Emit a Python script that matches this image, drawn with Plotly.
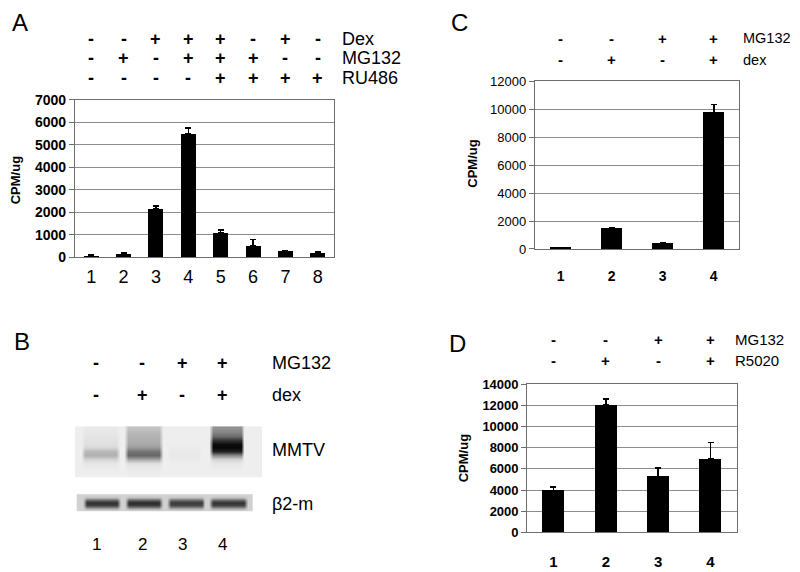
import plotly.graph_objects as go

FONT = "Liberation Sans"

# ---------------- data ----------------
# Panel A
a_lanes = [1, 2, 3, 4, 5, 6, 7, 8]
a_values = [100, 170, 2170, 5470, 1090, 530, 310, 230]
a_errors = [20, 15, 100, 260, 115, 270, 0, 0]
a_dex = ["-", "-", "+", "+", "+", "-", "+", "-"]
a_mg132 = ["-", "+", "-", "+", "+", "+", "-", "-"]
a_ru486 = ["-", "-", "-", "-", "+", "+", "+", "+"]

# Panel C
c_lanes = [1, 2, 3, 4]
c_values = [110, 1480, 415, 9770]
c_errors = [0, 50, 0, 560]
c_mg132 = ["-", "-", "+", "+"]
c_dex = ["-", "+", "-", "+"]

# Panel D
d_lanes = [1, 2, 3, 4]
d_values = [3950, 12000, 5290, 6940]
d_errors = [360, 620, 800, 1560]
d_mg132 = ["-", "-", "+", "+"]
d_r5020 = ["-", "+", "-", "+"]

# Panel B (blot darkness, 0 = background, 1 = black)
b_lanes = [1, 2, 3, 4]
b_mg132 = ["-", "-", "+", "+"]
b_dex = ["-", "+", "-", "+"]
# MMTV strip, darkness from top to bottom (13 slices), one list per lane
mmtv_lane1 = [0.04, 0.05, 0.06, 0.07, 0.08, 0.11, 0.24, 0.27, 0.12, 0.05, 0.03, 0.02, 0.02]
mmtv_lane2 = [0.20, 0.24, 0.26, 0.28, 0.30, 0.36, 0.52, 0.58, 0.30, 0.08, 0.04, 0.03, 0.02]
mmtv_lane3 = [0.02, 0.02, 0.02, 0.02, 0.03, 0.03, 0.04, 0.04, 0.03, 0.02, 0.02, 0.02, 0.02]
mmtv_lane4 = [0.40, 0.46, 0.56, 0.80, 0.95, 0.97, 0.86, 0.42, 0.12, 0.05, 0.03, 0.02, 0.02]
# beta2-m strip band darkness per lane
b2m_band = [0.80, 0.82, 0.76, 0.79]
blot_bg = 0.02
b2m_bg = 0.14
b2m_shape = [0.0, 0.08, 0.5, 0.88, 1.0, 0.88, 0.5, 0.08, 0.0]

# page offset (browser body margin)
OFF = 8


def px(x):
    return (x - OFF) / 800.0


def py(y):
    return 1 - (y - OFF) / 572.0


fig = go.Figure()

GRID = "#8c8c8c"
FRAME = "#6e6e6e"


def bar_trace(lanes, values, errors, xa, ya, width):
    return go.Bar(
        x=lanes, y=values, xaxis=xa, yaxis=ya, width=width,
        marker=dict(color="black", line=dict(width=0)),
        error_y=dict(type="data", symmetric=False, array=errors,
                     arrayminus=[0] * len(errors), color="black",
                     thickness=1.6, width=3),
        showlegend=False, hoverinfo="skip",
    )


fig.add_trace(bar_trace(a_lanes, a_values, a_errors, "x", "y", 0.46))
fig.add_trace(bar_trace(c_lanes, c_values, c_errors, "x2", "y2", 0.41))
fig.add_trace(bar_trace(d_lanes, d_values, d_errors, "x4", "y4", 0.42))

# ---------------- blot (panel B) ----------------
mmtv_cols = [mmtv_lane1, mmtv_lane2, mmtv_lane3, mmtv_lane4]


def grid(x0, x1, n):
    step = (x1 - x0) / n
    return [x0 + step * (k + 0.5) for k in range(n)]


def lane_of(x, half):
    for i, lane in enumerate(b_lanes):
        if abs(x - lane) <= half:
            return i
    return None


mx = grid(0.39, 4.81, 48)
my = grid(0, 52, len(mmtv_lane1))
mmtv_z = []
for r in range(len(my)):
    row = []
    for xv in mx:
        li = lane_of(xv, 0.38)
        row.append(blot_bg if li is None else mmtv_cols[li][r])
    mmtv_z.append(row)

GRAYS = [[0, "#f3f3f3"], [1, "#000000"]]
fig.add_trace(go.Heatmap(
    x=mx, y=my, z=mmtv_z, xaxis="x3", yaxis="y3",
    zmin=0, zmax=1, zsmooth="best", showscale=False, hoverinfo="skip",
    colorscale=GRAYS,
))

bx = grid(0.43, 4.6, 46)
by = grid(70, 88, len(b2m_shape))
b2m_z = []
for r in range(len(by)):
    row = []
    for xv in bx:
        li = lane_of(xv, 0.42)
        if li is None:
            row.append(b2m_bg)
        else:
            row.append(b2m_bg + (b2m_band[li] - b2m_bg) * b2m_shape[r])
    b2m_z.append(row)

fig.add_trace(go.Heatmap(
    x=bx, y=by, z=b2m_z, xaxis="x3", yaxis="y3",
    zmin=0, zmax=1, zsmooth="best", showscale=False, hoverinfo="skip",
    colorscale=GRAYS,
))


def xax(domain, rng, lanes, size, bold, standoff):
    return dict(
        domain=domain, range=rng, tickmode="array", tickvals=lanes,
        ticktext=[str(v) for v in lanes], showgrid=False, zeroline=False,
        showline=True, mirror=True, linecolor=FRAME, linewidth=1.3,
        ticks="", ticklabelstandoff=standoff,
        tickfont=dict(family=FONT, size=size, color="black",
                      weight="bold" if bold else "normal"),
        fixedrange=True,
    )


def yax(domain, rng, dtick, size, bold):
    return dict(
        domain=domain, range=rng, dtick=dtick, tickformat="d", showgrid=True,
        gridcolor=GRID, gridwidth=1.3, zeroline=False, showline=True,
        mirror=True, linecolor=FRAME, linewidth=1.3, ticks="outside",
        ticklen=5, tickcolor=FRAME, tickwidth=1.2,
        tickfont=dict(family=FONT, size=size, color="black",
                      weight="bold" if bold else "normal"),
        fixedrange=True,
    )


layout = dict(
    width=800, height=572, margin=dict(l=0, r=0, t=0, b=0),
    paper_bgcolor="white", plot_bgcolor="white", bargap=0,
    xaxis=xax([px(75), px(334)], [0.5, 8.5], a_lanes, 18, False, 3),
    yaxis=yax([py(256.3), py(94)], [0, 7000], 1000, 14, True),
    xaxis2=xax([px(535), px(739.3)], [0.5, 4.5], c_lanes, 14, True, 14),
    yaxis2=yax([py(247.7), py(75)], [0, 12000], 2000, 13, False),
    xaxis4=xax([px(527.3), px(736.7)], [0.5, 4.5], d_lanes, 15, True, 15),
    yaxis4=yax([py(539.3), py(386.7)], [0, 14000], 2000, 13, True),
    xaxis3=dict(domain=[px(75), px(262)], range=[0.39, 4.81], visible=False,
                fixedrange=True),
    yaxis3=dict(domain=[py(518), py(430)], range=[88, 0], visible=False,
                fixedrange=True),
)
for a, b in [("xaxis", "y"), ("yaxis", "x"), ("xaxis2", "y2"), ("yaxis2", "x2"),
             ("xaxis4", "y4"), ("yaxis4", "x4"), ("xaxis3", "y3"),
             ("yaxis3", "x3")]:
    layout[a]["anchor"] = b
fig.update_layout(**layout)

ann = []


def text(x, y, s, size, xref="paper", anchor="center", bold=False, angle=0):
    ann.append(dict(
        x=x, y=y, xref=xref, yref="paper", text=s, showarrow=False,
        xanchor=anchor, yanchor="middle", textangle=angle,
        font=dict(family=FONT, size=size, color="black",
                  weight="bold" if bold else "normal"),
    ))


# panel letters
text(px(20), py(15), "A", 24)
text(px(459), py(15), "C", 24)
text(px(22), py(343), "B", 24)
text(px(457), py(345), "D", 24)

# axis titles
text(px(15), py(177), "CPM/ug", 13, bold=True, angle=-90)
text(px(473), py(160), "CPM/ug", 13, bold=True, angle=-90)
text(px(463), py(463), "CPM/ug", 13, bold=True, angle=-90)

# Panel A treatment rows
for row, name, yy in [(a_dex, "Dex", 32), (a_mg132, "MG132", 51),
                      (a_ru486, "RU486", 72)]:
    for lane, s in zip(a_lanes, row):
        text(lane, py(yy), s, 18, xref="x", bold=True)
    text(px(340), py(yy), name, 18, anchor="left")

# Panel C treatment rows
for row, name, yy in [(c_mg132, "MG132", 31), (c_dex, "dex", 53)]:
    for lane, s in zip(c_lanes, row):
        text(lane, py(yy), s, 15, xref="x2", bold=True)
    text(px(741), py(yy), name, 14.5, anchor="left")

# Panel D treatment rows
for row, name, yy in [(d_mg132, "MG132", 341), (d_r5020, "R5020", 362)]:
    for lane, s in zip(d_lanes, row):
        text(lane, py(yy), s, 15, xref="x4", bold=True)
    text(px(733), py(yy), name, 15, anchor="left")

# Panel B labels
b_label_x = [96, 142, 182, 222]
for row, name, yy in [(b_mg132, "MG132", 365), (b_dex, "dex", 398)]:
    for xx, s in zip(b_label_x, row):
        text(px(xx), py(yy), s, 18, bold=True)
    text(px(270), py(yy), name, 18, anchor="left")
text(px(270), py(455), "MMTV", 18, anchor="left")
text(px(270), py(510), "β2-m", 18, anchor="left")
for xx, lane in zip(b_label_x, b_lanes):
    text(px(xx), py(552), str(lane), 17)

fig.update_layout(annotations=ann)
fig.write_html("out.html")
